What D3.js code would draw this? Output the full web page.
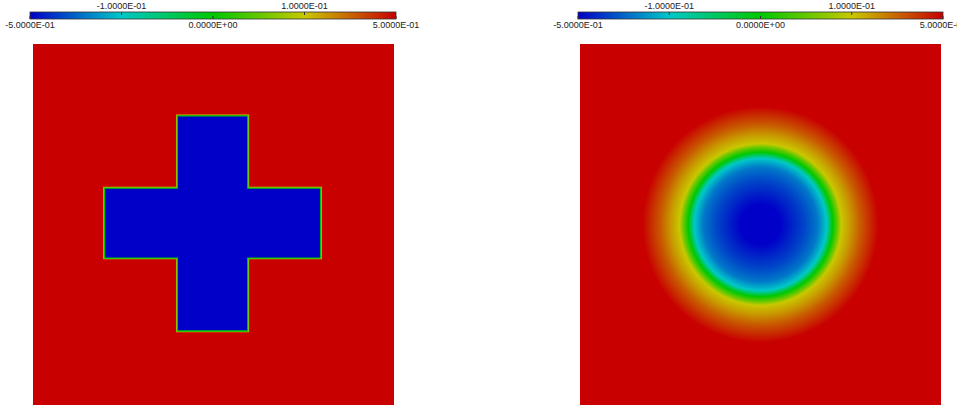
<!DOCTYPE html>
<html>
<head>
<meta charset="utf-8">
<script src="https://cdn.jsdelivr.net/npm/d3@7"></script>
<style>
  html, body { margin: 0; padding: 0; background: #fff; }
  svg { display: block; }
  text { font-family: "Liberation Sans", Arial, sans-serif; font-size: 9px; fill: #222; }
</style>
</head>
<body>
<svg id="chart" width="957" height="405"></svg>
<script>
// ---------- data ----------
const cbStops   = [-0.5, -0.1, 0, 0.1, 0.5];          // value at colour-bar stops
const cbColors  = ["#0000c8", "#00c8c8", "#00c800", "#c8c800", "#c80000"];
const topTicks  = [-0.1, 0.1];
const topLabels = ["-1.0000E-01", "1.0000E-01"];
const botTicks  = [-0.5, 0, 0.5];
const botLabels = ["-5.0000E-01", "0.0000E+00", "5.0000E-01"];

// left panel: cross-shaped region (inside = -0.5, outside = 0.5)
const crossX = [0.198, 0.400, 0.595, 0.797];
const crossY = [0.205, 0.407, 0.601, 0.801];
const insideValue = -0.5;
const outsideValue = 0.5;

// right panel: radially smoothed field
const circleCenter = [0.5, 0.5];
const profileR = [0, 0.055, 0.122, 0.158, 0.183, 0.200, 0.213, 0.224, 0.249, 0.277, 0.305, 0.327];
const profileV = [-0.5, -0.5, -0.36, -0.26, -0.10, 0.0, 0.05, 0.10, 0.196, 0.32, 0.42, 0.5];

// ---------- layout ----------
const svg = d3.select("#chart");
const panels = [
  { x0: 33,  y0: 44, size: 361, bar: [30, 396] },
  { x0: 580, y0: 44, size: 361, bar: [578, 943] }
];
const barY0 = 12, barY1 = 19;

const frac = d3.scaleLinear().domain(cbStops).range([0, 0.25, 0.5, 0.75, 1]);
const colorOfFrac = d3.scaleLinear().domain([0, 0.25, 0.5, 0.75, 1]).range(cbColors);
const color = v => colorOfFrac(frac(v));

const defs = svg.append("defs");
const cbGrad = defs.append("linearGradient").attr("id", "cbgrad")
  .attr("x1", "0%").attr("x2", "100%").attr("y1", "0%").attr("y2", "0%");
cbStops.forEach(v => cbGrad.append("stop")
  .attr("offset", frac(v) * 100 + "%").attr("stop-color", color(v)));

panels.forEach((p, i) => {
  // colour bar
  const bx = d3.scaleLinear().domain([0, 1]).range(p.bar);
  const g = svg.append("g");
  g.append("rect").attr("x", p.bar[0]).attr("y", barY0)
    .attr("width", p.bar[1] - p.bar[0]).attr("height", barY1 - barY0)
    .attr("fill", "url(#cbgrad)").attr("stroke", "#333").attr("stroke-width", 0.8);
  topTicks.forEach((t, k) => {
    const x = bx(frac(t));
    g.append("line").attr("x1", x).attr("x2", x).attr("y1", barY0).attr("y2", barY0 + 3)
      .attr("stroke", "#333").attr("stroke-width", 1);
    g.append("text").attr("x", x).attr("y", 8.5).attr("text-anchor", "middle").text(topLabels[k]);
  });
  botTicks.forEach((t, k) => {
    const x = bx(frac(t));
    g.append("line").attr("x1", x).attr("x2", x).attr("y1", barY1 - 3).attr("y2", barY1)
      .attr("stroke", "#333").attr("stroke-width", 1);
    g.append("text").attr("x", x).attr("y", 27.5).attr("text-anchor", "middle").text(botLabels[k]);
  });

  // panel scales
  p.x = d3.scaleLinear().domain([0, 1]).range([p.x0, p.x0 + p.size]);
  p.y = d3.scaleLinear().domain([0, 1]).range([p.y0 + p.size, p.y0]);
  defs.append("clipPath").attr("id", "clip" + i).append("rect")
    .attr("x", p.x0).attr("y", p.y0).attr("width", p.size).attr("height", p.size);
});

// ---------- left panel: cross ----------
{
  const p = panels[0];
  const g = svg.append("g").attr("clip-path", "url(#clip0)");
  g.append("rect").attr("x", p.x(0)).attr("y", p.y(1))
    .attr("width", p.x(1) - p.x(0)).attr("height", p.y(0) - p.y(1))
    .attr("fill", color(outsideValue));
  const [a, b, c, d] = crossX, [e, f, h, k] = crossY;
  const pts = [[b, k], [c, k], [c, h], [d, h], [d, f], [c, f], [c, e], [b, e], [b, f], [a, f], [a, h], [b, h]];
  const line = d3.line().x(q => p.x(q[0])).y(q => p.y(q[1])).curve(d3.curveLinearClosed);
  g.append("path").attr("d", line(pts)).attr("fill", "none")
    .attr("stroke", color(0.1)).attr("stroke-width", 2.6).attr("stroke-linejoin", "miter");
  g.append("path").attr("d", line(pts)).attr("fill", color(insideValue))
    .attr("stroke", color(0)).attr("stroke-width", 1.3).attr("stroke-linejoin", "miter");
}

// ---------- right panel: circle ----------
{
  const p = panels[1];
  const g = svg.append("g").attr("clip-path", "url(#clip1)");
  const cx = p.x(circleCenter[0]), cy = p.y(circleCenter[1]);
  const rMax = d3.max(profileR);
  const rPix = p.x(rMax) - p.x(0);
  const rg = defs.append("radialGradient").attr("id", "radgrad")
    .attr("gradientUnits", "userSpaceOnUse")
    .attr("cx", cx).attr("cy", cy).attr("r", rPix).attr("fx", cx).attr("fy", cy);
  profileR.forEach((r, i) => rg.append("stop")
    .attr("offset", (r / rMax * 100) + "%").attr("stop-color", color(profileV[i])));
  g.append("rect").attr("x", p.x(0)).attr("y", p.y(1))
    .attr("width", p.x(1) - p.x(0)).attr("height", p.y(0) - p.y(1))
    .attr("fill", "url(#radgrad)");
}
</script>
</body>
</html>
